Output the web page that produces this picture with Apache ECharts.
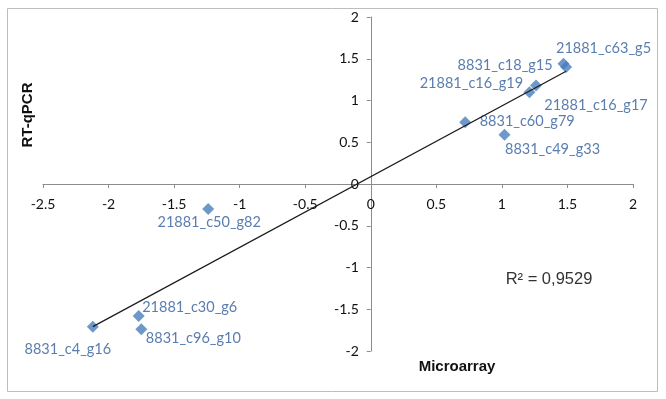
<!DOCTYPE html>
<html>
<head>
<meta charset="utf-8">
<script src="https://cdn.jsdelivr.net/npm/echarts@6/dist/echarts.min.js"></script>
<style>html,body{margin:0;padding:0;background:#fff}#c{width:666px;height:399px}</style>
</head>
<body>
<div id="c"></div>
<script>
// ---- data ----
var geneNames = ['21881_c63_g5','8831_c18_g15','21881_c16_g19','21881_c16_g17','8831_c60_g79','8831_c49_g33','21881_c50_g82','21881_c30_g6','8831_c96_g10','8831_c4_g16'];
var microarray = [1.47, 1.49, 1.21, 1.26, 0.72, 1.02, -1.24, -1.77, -1.75, -2.12];
var rtqpcr     = [1.44, 1.40, 1.10, 1.18, 0.74, 0.59, -0.30, -1.58, -1.74, -1.71];
var xTicks = {min: -2.5, max: 2, step: 0.5};
var yTicks = {min: -2, max: 2, step: 0.5};
var r2Text = 'R² = 0,9529';

// label centre offsets (px) from each marker, layout only
var labelOffsets = [[40,-15],[-61,-2],[-58,-9],[60,20],[62,-1],[48,15],[1,13],[51,-9],[52,9],[-25,23]];

// least squares trendline from the data
var n = microarray.length, sx=0, sy=0, sxx=0, sxy=0;
for (var i=0;i<n;i++){sx+=microarray[i];sy+=rtqpcr[i];sxx+=microarray[i]*microarray[i];sxy+=microarray[i]*rtqpcr[i];}
var slope = (n*sxy - sx*sy)/(n*sxx - sx*sx);
var icpt = (sy - slope*sx)/n;
var xMin = Math.min.apply(null, microarray), xMax = Math.max.apply(null, microarray);

var points = geneNames.map(function(name,i){
  return {
    value:[microarray[i], rtqpcr[i]], name:name,
    label:{show:true, position:'inside', offset:labelOffsets[i], formatter:name}
  };
});

// layout
var W = 666, H = 399;
var G = {left:43, right:33, top:17, bottom:48};
var gw = W - G.left - G.right, gh = H - G.top - G.bottom;
// shift axes so they cross at the origin
var xAxisOffset = -gh * (0 - yTicks.min) / (yTicks.max - yTicks.min);
var yAxisOffset = -gw * (0 - xTicks.min) / (xTicks.max - xTicks.min);

var chart = echarts.init(document.getElementById('c'), null, {renderer:'canvas'});
var lineCol = '#8c8c8c';
chart.setOption({
  animation:false,
  grid:G,
  xAxis:{
    type:'value', min:xTicks.min, max:xTicks.max, interval:xTicks.step,
    position:'bottom', offset:xAxisOffset,
    splitLine:{show:false},
    axisLine:{onZero:false, lineStyle:{color:lineCol, width:1}},
    axisTick:{show:true, length:4, lineStyle:{color:lineCol}},
    axisLabel:{color:'#111', fontFamily:'Lato', fontSize:14, margin:13}
  },
  yAxis:{
    type:'value', min:yTicks.min, max:yTicks.max, interval:yTicks.step,
    position:'left', offset:yAxisOffset,
    splitLine:{show:false},
    axisLine:{onZero:false, lineStyle:{color:lineCol, width:1}},
    axisTick:{show:true, length:4, lineStyle:{color:lineCol}},
    axisLabel:{color:'#111', fontFamily:'Lato', fontSize:14, margin:12}
  },
  series:[
    {
      type:'line',
      data:[[xMin, slope*xMin+icpt],[xMax, slope*xMax+icpt]],
      showSymbol:false, symbol:'none',
      lineStyle:{color:'#1a1a1a', width:1.2},
      z:3
    },
    {
      type:'scatter',
      symbol:'diamond', symbolSize:12,
      itemStyle:{color:'#4a7ebb'},
      label:{color:'#2f5d9a', fontFamily:'Lato', fontSize:14.5},
      data:points,
      z:2
    }
  ],
  graphic:[
    {type:'rect', shape:{x:7.5, y:8.5, width:650, height:383}, style:{fill:'none', stroke:'#bdbdbd', lineWidth:1}, z:-1},
    {type:'text', x:28, y:115, rotation:Math.PI/2, style:{text:'RT-qPCR', font:'bold 15px "Liberation Sans", Arial', fill:'#111', textAlign:'center', textVerticalAlign:'middle'}},
    {type:'text', x:457, y:367, style:{text:'Microarray', font:'bold 15px "Liberation Sans", Arial', fill:'#111', textAlign:'center', textVerticalAlign:'middle'}},
    {type:'text', x:549, y:279, style:{text:r2Text, font:'16.5px "Liberation Sans", Arial', fill:'#333', textAlign:'center', textVerticalAlign:'middle'}}
  ]
});
</script>
</body>
</html>
